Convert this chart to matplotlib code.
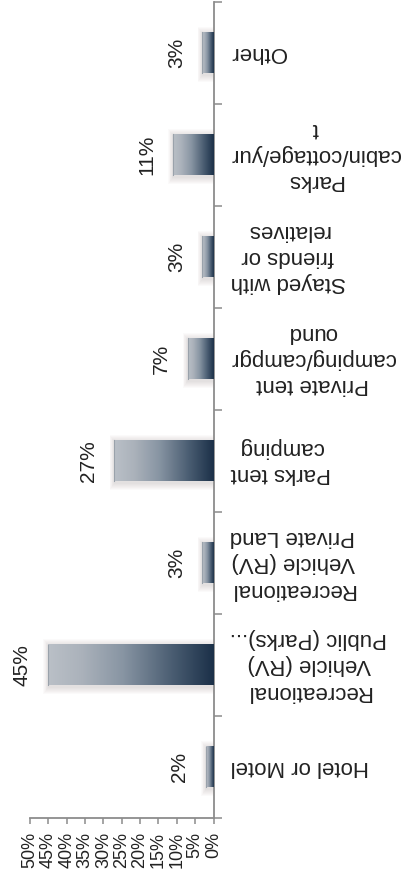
import matplotlib
matplotlib.use("Agg")
import matplotlib.pyplot as plt
import numpy as np
from matplotlib.colors import LinearSegmentedColormap
from matplotlib.patches import Rectangle

# Accommodation type used during the trip (share of respondents)
categories = [
    "Hotel or Motel",
    "Recreational\nVehicle (RV)\nPublic (Parks)...",
    "Recreational\nVehicle (RV)\nPrivate Land",
    "Parks tent\ncamping",
    "Private tent\ncamping/campgr\nound",
    "Stayed with\nfriends or\nrelatives",
    "Parks\ncabin/cottage/yur\nt",
    "Other",
]
shares = [2, 45, 3, 27, 7, 3, 11, 3]
value_ticks = [0, 5, 10, 15, 20, 25, 30, 35, 40, 45, 50]
value_tick_labels = ["0%", "5%", "10%", "15%", "20%", "25%", "30%",
                     "35%", "40%", "45%", "50%"]

plt.rcParams["font.family"] = ["Liberation Sans", "DejaVu Sans"]

AXIS_GREY = "#8c8c8c"
TEXT = "#222222"

fig = plt.figure(figsize=(4.12, 8.82), dpi=100)
W, H = 412, 882
ax = fig.add_axes([30 / W, 64 / H, 183.5 / W, 816.3 / H])

ypos = np.arange(len(categories))
bars = ax.barh(ypos, shares, height=0.4, color="none", edgecolor="none", zorder=3)

ax.set_xlim(50, 0)
ax.set_ylim(-0.5, len(categories) - 0.5)

# dark navy at the baseline fading to light grey at the bar end
bar_cmap = LinearSegmentedColormap.from_list(
    "bar_fade",
    [(0.0, "#1b3048"), (0.25, "#4a5d72"), (0.55, "#8895a3"),
     (0.8, "#abb2bb"), (1.0, "#bac0c7")],
)
grad = np.linspace(0, 1, 256).reshape(1, -1)

# pixel size in data units, used for the soft drop shadow
px_x = 50 / 183.5
px_y = len(categories) / 816.3

for b in bars:
    x0, y0, w, h = b.get_x(), b.get_y(), b.get_width(), b.get_height()
    for k in range(1, 8):
        ax.add_patch(Rectangle((x0 - k * px_x * 0.3, y0 - k * px_y - 1.5 * px_y),
                               w + k * px_x, h + 2 * k * px_y,
                               facecolor="#5a4848", edgecolor="none",
                               alpha=0.025, zorder=2))
    ax.imshow(grad, extent=[x0, x0 + w, y0, y0 + h], cmap=bar_cmap,
              aspect="auto", interpolation="bicubic", zorder=3)
    ax.plot([x0 + w, x0 + w], [y0, y0 + h], color="#9aa2ab", lw=0.8, zorder=4)

ax.set_xlim(50, 0)
ax.set_ylim(-0.5, len(categories) - 0.5)

for yi, v in zip(ypos, shares):
    ax.annotate(f"{v}%", xy=(v, yi), xytext=(-12, 0),
                textcoords="offset points", rotation=90, ha="right",
                va="center", fontsize=15, color=TEXT)

# value axis along the bottom
ax.set_xticks(value_ticks)
ax.set_xticklabels(value_tick_labels, rotation=90, fontsize=13, color=TEXT)
ax.tick_params(axis="x", direction="out", length=4, width=1.1,
               color=AXIS_GREY, pad=6)

# category axis on the right with separators between categories
ax.yaxis.tick_right()
ax.set_yticks(ypos)
ax.set_yticklabels(categories, rotation=180, ha="left", va="center",
                   multialignment="center", fontsize=16, color=TEXT,
                   linespacing=1.32)
ax.set_yticks(np.arange(-0.5, len(categories), 1), minor=True)
ax.tick_params(axis="y", which="major", length=0, pad=12, left=False, right=True)
ax.tick_params(axis="y", which="minor", length=6, width=1.1, color=AXIS_GREY,
               direction="out", left=False, right=True)

for side in ("top", "left"):
    ax.spines[side].set_visible(False)
for side in ("right", "bottom"):
    ax.spines[side].set_color(AXIS_GREY)
    ax.spines[side].set_linewidth(1.3)

fig.savefig("out.png", dpi=100, facecolor="white")
